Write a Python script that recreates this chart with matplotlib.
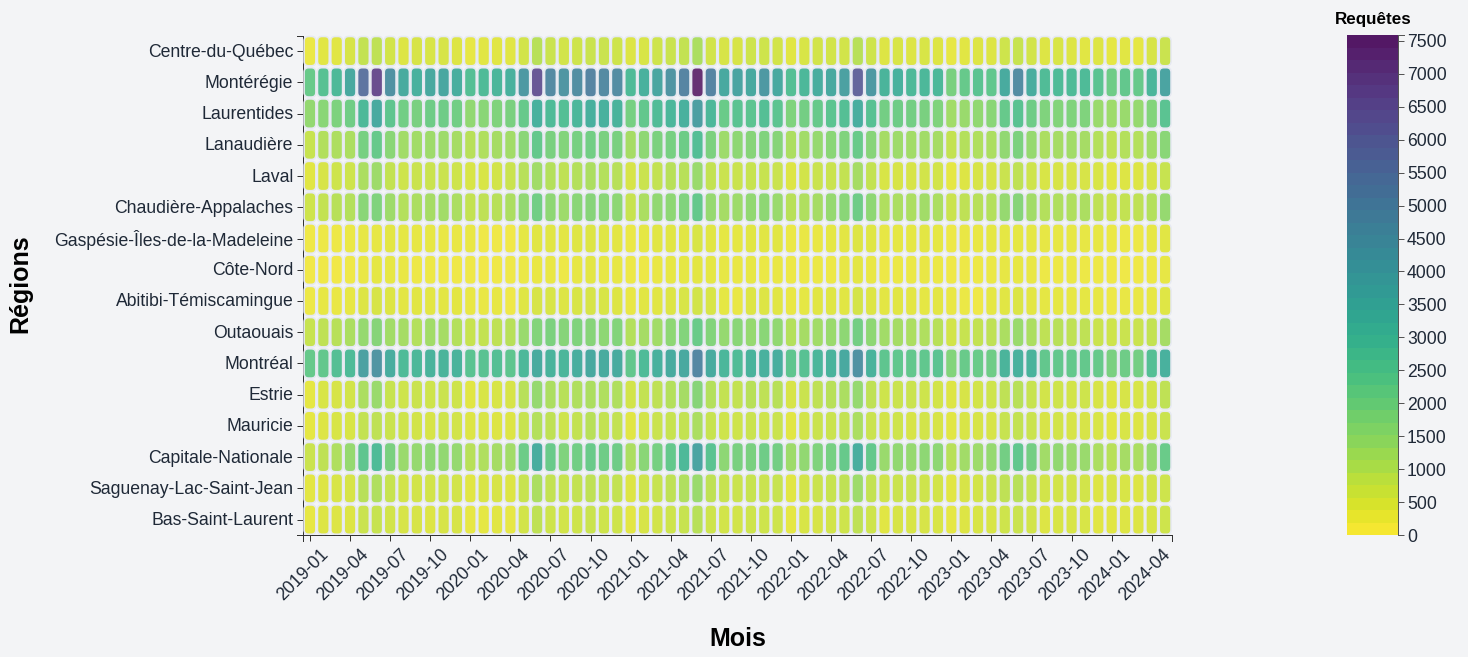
import matplotlib
matplotlib.use("Agg")
import numpy as np
import matplotlib.pyplot as plt
from matplotlib.path import Path
from matplotlib.colors import Normalize
from matplotlib.transforms import ScaledTranslation

plt.rcParams['font.family'] = ['Liberation Sans', 'DejaVu Sans']

regions = ["Centre-du-Québec", "Montérégie", "Laurentides", "Lanaudière", "Laval",
           "Chaudière-Appalaches", "Gaspésie-Îles-de-la-Madeleine", "Côte-Nord",
           "Abitibi-Témiscamingue", "Outaouais", "Montréal", "Estrie", "Mauricie",
           "Capitale-Nationale", "Saguenay-Lac-Saint-Jean", "Bas-Saint-Laurent"]
months = [f"{y}-{m:02d}" for y in range(2019, 2025) for m in range(1, 13)][:65]
max_value = 7590

centre_du_quebec = [250,400,400,560,820,880,620,450,560,510,560,450,320,400,400,400,620,950,720,620,670,720,720,670,450,510,670,720,820,1150,620,560,560,670,670,620,400,510,620,620,620,950,670,450,510,450,510,450,300,400,450,450,670,770,620,450,510,450,400,450,350,400,350,560,720]
monteregie = [2240,2620,2940,3600,5550,6800,4500,3500,3300,3580,3650,3380,2700,2900,3080,3300,4200,6500,4800,4350,4600,5000,4800,4700,2900,3300,3700,4400,5000,7590,5000,3580,3800,3580,4200,3580,2700,2980,3450,3580,3900,6070,4200,3130,3300,2940,2980,2980,1920,2280,2530,2400,3500,4700,3450,2800,2900,2900,2900,2530,2110,2360,2280,3080,3800]
laurentides = [1500,1650,1850,2100,2950,3550,2450,2070,1920,2110,2110,2070,1520,1640,1810,1920,2280,3300,2900,2700,3030,3350,3300,3180,1970,2360,2800,3030,3300,4000,2980,2200,2530,2500,2700,2500,1810,2020,2280,2500,2700,3380,2620,2020,2110,2020,1920,1810,1280,1410,1520,1640,2280,2570,2110,1810,1750,1810,1810,1410,1340,1410,1470,1750,2530]
lanaudiere = [760,1050,1100,1150,1970,2270,1640,1280,1280,1340,1340,1220,950,1080,1220,1280,1640,2320,1920,1750,1970,2070,1920,1920,1220,1580,1870,1970,2150,2750,1870,1340,1580,1700,1810,1700,1150,1280,1470,1640,1810,2240,1700,1220,1340,1280,1280,1220,820,1010,1080,1150,1520,1870,1470,1150,1220,1280,1220,1010,880,1010,1010,1280,1640]
laval = [400,560,670,670,1130,1350,820,670,720,720,720,670,510,510,620,720,950,1280,1010,880,1010,1150,1010,950,560,720,820,950,950,1410,820,720,720,770,770,720,450,620,720,720,820,1220,820,510,560,560,620,620,350,450,560,560,720,880,670,510,560,560,560,510,400,450,450,560,770]
chaudiere_appalaches = [670,820,950,1010,1640,1810,1340,1010,1150,1220,1280,1150,820,880,950,1150,1520,2070,1580,1340,1640,1700,1640,1580,770,1150,1520,1580,1810,2320,1470,1220,1340,1520,1580,1410,950,1080,1220,1470,1640,2110,1580,1080,1150,1150,1280,1150,720,880,950,1010,1470,1700,1280,1010,1080,1080,1150,880,720,820,880,1010,1470]
gaspesie = [200,220,230,250,300,320,380,330,320,320,270,270,270,200,200,170,340,400,400,360,430,450,420,360,250,350,400,400,400,510,400,350,350,400,400,400,250,280,280,340,370,450,420,300,350,330,370,350,230,280,280,350,350,350,350,300,310,300,320,300,250,250,220,320,400]
cote_nord = [170,190,170,200,270,340,300,270,220,220,220,200,200,170,180,190,250,280,270,210,320,360,300,300,210,230,270,320,330,380,330,300,280,300,260,280,210,240,240,230,300,380,290,230,250,250,270,250,200,230,210,240,300,310,270,220,230,250,230,230,190,200,190,230,320]
abitibi = [220,300,270,320,450,560,450,370,400,370,370,380,270,270,300,200,430,560,510,450,510,540,510,450,270,400,400,450,510,620,510,350,270,450,450,400,270,350,400,420,400,590,450,380,400,380,330,380,270,250,200,350,400,490,380,330,350,320,350,300,220,270,280,300,420]
outaouais = [770,880,950,1150,1470,1700,1280,1220,1010,1280,1220,1010,770,820,880,950,1410,1750,1870,1700,1810,1700,1580,1750,1010,1220,1280,1580,1750,2200,1750,1470,1640,1470,1640,1520,1010,1220,1280,1410,1580,2020,1580,1280,1220,1150,1080,950,620,770,820,880,1150,1410,1150,880,950,880,880,720,670,720,720,820,1220]
montreal = [2280,2360,2700,2900,3900,4400,3450,2900,2980,3180,3130,3180,2530,2570,2700,2450,2980,3500,3180,3080,3380,3580,3500,3500,2360,2900,3300,3500,3580,4900,3500,3030,2800,3180,3300,3380,2450,2620,3080,3180,3580,4500,3180,2450,2400,2360,2400,2530,1750,2240,2200,2110,3130,3300,3180,2360,2360,2320,2320,2280,1920,2110,2020,2700,3300]
estrie = [350,510,560,620,1150,1410,770,670,720,670,720,670,400,510,510,560,950,1470,1150,950,1080,1150,1080,1080,620,820,880,1010,1220,1700,1010,820,820,950,880,950,560,720,880,950,1150,1470,880,670,720,720,670,620,450,560,620,670,880,950,770,620,670,620,670,560,450,560,510,620,880]
mauricie = [350,450,510,510,820,880,720,670,620,560,670,620,450,510,450,450,770,1010,880,670,820,950,820,820,400,620,720,770,820,1150,770,670,670,720,670,720,400,620,720,720,820,1150,720,620,670,560,620,560,400,510,560,560,770,820,720,560,620,560,560,510,400,510,450,560,720]
capitale_nationale = [720,880,1080,1470,2450,2900,1920,1410,1470,1580,1520,1470,950,1080,1220,1280,2150,3450,2240,1810,2070,2240,2110,2110,1150,1640,1970,2320,2940,3800,2530,1580,1920,1920,2110,2020,1340,1520,1810,1970,2280,3380,2320,1410,1520,1470,1580,1580,950,1280,1340,1470,2020,2400,2020,1280,1520,1410,1410,1150,950,1220,1150,1470,2200]
saguenay = [380,450,510,560,950,1080,770,620,620,620,670,620,400,510,560,450,770,1150,820,770,820,880,820,820,450,670,770,880,1080,1410,880,770,720,770,720,770,400,620,720,770,880,1340,820,670,720,720,670,620,400,560,620,720,880,950,770,620,620,620,620,450,510,510,450,620,670]
bas_saint_laurent = [300,450,450,450,720,770,620,560,560,450,560,560,300,350,400,320,620,880,670,620,670,720,670,670,370,560,620,670,770,950,670,620,620,670,670,670,350,510,560,620,670,880,670,400,560,510,560,510,350,450,510,510,670,720,620,450,510,510,510,400,400,450,450,510,670]
series = [centre_du_quebec, monteregie, laurentides, lanaudiere, laval, chaudiere_appalaches,
          gaspesie, cote_nord, abitibi, outaouais, montreal, estrie, mauricie,
          capitale_nationale, saguenay, bas_saint_laurent]

BG = '#f3f4f6'
TXT = '#1f2937'
W, H = 1468, 657
fig = plt.figure(figsize=(W/100, H/100), dpi=100, facecolor=BG)

def box(l, t, r, b):
    return [l/W, 1-b/H, (r-l)/W, (b-t)/H]

def px(v):
    return v*0.72

ax = fig.add_axes(box(303.3, 35.5, 1171.8, 535.2), facecolor=BG)
cmap = plt.get_cmap('viridis_r')
norm = Normalize(0, max_value)

# rounded cell marker, unit = fraction of its height
h = 29.3; w = 11.8; rr = 4.5
a, b, c = w/h, 1.0, rr*2/h
verts = [(-a+c,-b),(a-c,-b),(a,-b),(a,-b+c),(a,b-c),(a,b),(a-c,b),(-a+c,b),(-a,b),(-a,b-c),(-a,-b+c),(-a,-b),(-a+c,-b),(-a+c,-b)]
codes = [Path.MOVETO,Path.LINETO,Path.CURVE3,Path.CURVE3,Path.LINETO,Path.CURVE3,Path.CURVE3,Path.LINETO,Path.CURVE3,Path.CURVE3,Path.LINETO,Path.CURVE3,Path.CURVE3,Path.CLOSEPOLY]
cell = Path(verts, codes)

vals = np.array(series, dtype=float)
xx, yy = np.meshgrid(np.arange(len(months)), np.arange(len(regions)))
ax.scatter(xx.ravel(), yy.ravel(), marker=cell, s=px(h)**2,
           c=cmap(norm(vals.ravel()), alpha=0.8), edgecolors='#e6e9f1',
           linewidths=px(1.6), zorder=3, clip_on=False)
ax.set_xlim(-0.5, len(months)-0.5)
ax.set_ylim(len(regions)-0.5, -0.5)

for s in ('top', 'right'):
    ax.spines[s].set_visible(False)
for s in ('left', 'bottom'):
    ax.spines[s].set_color('#333333')
    ax.spines[s].set_linewidth(px(1))
    ax.spines[s].set_zorder(1)

ax.set_yticks(np.arange(len(regions)))
ax.set_yticklabels(regions, fontsize=px(17.6), color=TXT)
ax.set_xticks(np.arange(0, len(months), 3))
ax.set_xticklabels(months[::3], fontsize=px(17.6), color=TXT, rotation=45, ha='right',
                   rotation_mode='anchor')
ax.tick_params(axis='both', length=px(6), width=px(1), color='#333333', pad=px(4))
ax.tick_params(axis='x', pad=px(3))
for lab in ax.get_yticklabels():
    lab.set_transform(lab.get_transform() + ScaledTranslation(0, 1/100, fig.dpi_scale_trans))
for lab in ax.get_xticklabels():
    lab.set_transform(lab.get_transform() + ScaledTranslation(10/100, -2/100, fig.dpi_scale_trans))
# outer ticks at the ends of both axes
for xf in (0, 1):
    ax.plot([xf, xf], [0, -6/499.7], transform=ax.transAxes, color='#333333', lw=px(1), clip_on=False, zorder=1)
for yf in (0, 1):
    ax.plot([0, -6/868.5], [yf, yf], transform=ax.transAxes, color='#333333', lw=px(1), clip_on=False, zorder=1)

fig.text(738/W, 1-636/H, "Mois", fontsize=px(25), fontweight='bold', color='black', ha='center', va='center_baseline')
fig.text(20/W, 1-284/H, "Régions", fontsize=px(25), fontweight='bold', color='black', rotation=90, ha='center', va='center')

# legend
lax = fig.add_axes(box(1347, 35, 1398, 535), facecolor=BG)
n_bands = 40
edges = np.linspace(0, max_value, n_bands+1)
band_vals = (edges[:-1] + edges[1:])/2
lax.pcolormesh([0, 1], edges, band_vals[:, None], cmap=cmap, norm=norm, alpha=0.92, linewidth=0, rasterized=False)
lax.set_ylim(0, max_value)
lax.set_xticks([])
lax.yaxis.tick_right()
lax.set_yticks(np.arange(0, 7501, 500))
lax.tick_params(axis='y', length=px(6), width=px(1), color='#555555', labelcolor=TXT, labelsize=px(17.6), pad=px(3))
for s in ('top', 'left', 'bottom'):
    lax.spines[s].set_visible(False)
lax.spines['right'].set_color('#555555')
lax.spines['right'].set_linewidth(px(1))
lax.plot([1, 1+6/51], [1, 1], transform=lax.transAxes, color='#555555', lw=px(1), clip_on=False)
fig.text(1373/W, 1-18/H, "Requêtes", fontsize=px(17), fontweight='bold', color='black', ha='center', va='center_baseline')

fig.savefig('out.png', dpi=100, facecolor=BG)
